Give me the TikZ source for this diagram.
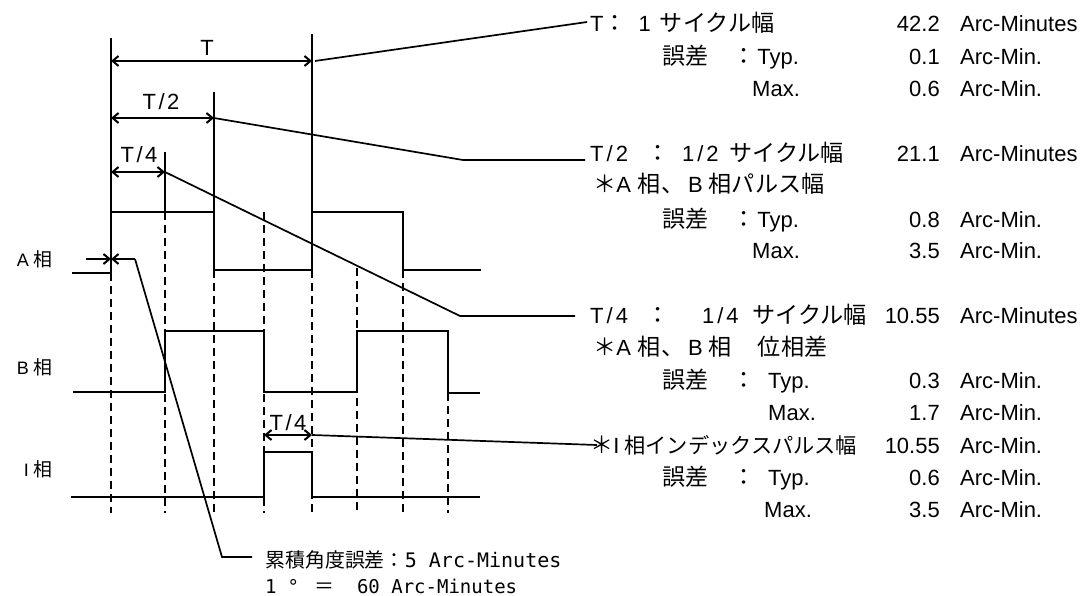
\documentclass[tikz,border=0pt]{standalone}
\usepackage{fontspec}
\setmainfont{Liberation Sans}
\newfontfamily\jp[Scale=1.05]{Noto Sans CJK JP}
\newfontfamily\mono{DejaVu Sans Mono}
\usetikzlibrary{arrows.meta}
\newcommand\sla{\hspace{3pt}/\hspace{3pt}}
\newcommand\slb{\hspace{2.5pt}/\hspace{2.5pt}}
\tikzset{
  wave/.style={line width=2.1pt},
  refl/.style={line width=1.9pt},
  grid/.style={line width=1.8pt, dash pattern=on 8pt off 5pt},
  dimarrow/.style={line width=2pt, {Straight Barb[length=6pt,width=10pt]}-{Straight Barb[length=6pt,width=10pt]}},
  onearrow/.style={line width=2pt, -{Straight Barb[length=6pt,width=10pt]}},
  lead/.style={line width=1.7pt},
  lbl/.style={font=\fontsize{22}{26}\selectfont, inner sep=0pt},
  txt/.style={font=\fontsize{22}{26}\selectfont, inner sep=0pt, anchor=base west},
  num/.style={font=\fontsize{22}{26}\selectfont, inner sep=0pt, anchor=base east},
  phase/.style={font=\fontsize{18}{22}\selectfont, inner sep=0pt, anchor=base east},
}
\begin{document}
\begin{tikzpicture}[x=1pt,y=-1pt]
\useasboundingbox (0,0) rectangle (1086,596);

% solid reference lines
\draw[refl] (111,38) -- (111,212);
\draw[refl] (214,92) -- (214,212);
\draw[refl] (312,34) -- (312,212);
\draw[refl] (165,152) -- (165,212);

% dashed grid
\foreach \x/\y in {111/273,165/212,214/270,264/212,312/270,357/268,403/270,448/393}
  \draw[grid] (\x,\y) -- (\x,513);

% waveforms
\draw[wave] (72,273) -- (111,273) -- (111,212) -- (214,212) -- (214,270) -- (312,270) -- (312,212) -- (403,212) -- (403,270) -- (481,270);
\draw[wave] (73,392) -- (165,392) -- (165,331) -- (264,331) -- (264,392) -- (357,392) -- (357,331) -- (448,331) -- (448,393) -- (480,393);
\draw[wave] (71,497) -- (264,497) -- (264,452) -- (312,452) -- (312,497) -- (480,497);

% phase labels
\node[phase] (la) at (53,266) {A\hspace{5pt}{\jp 相}};
\node[phase] (lb) at (53,374) {B\hspace{5pt}{\jp 相}};
\node[phase] (li) at (53,476) {I\hspace{5pt}{\jp 相}};

% dimension arrows
\coordinate (Ta) at (111,61);  \coordinate (Tb) at (312,61);
\coordinate (Ha) at (111,118); \coordinate (Hb) at (214,118);
\coordinate (Qa) at (111,172); \coordinate (Qb) at (165,172);
\coordinate (Ia) at (264,435); \coordinate (Ib) at (312,435);
\draw[dimarrow] (Ta) -- (Tb);
\draw[dimarrow] (Ha) -- (Hb);
\draw[dimarrow] (Qa) -- (Qb);
\draw[dimarrow] (Ia) -- (Ib);
\node[lbl] (tT) at (207,48) {T};
\node[lbl] (tH) at (161,102) {T\slb 2};
\node[lbl] (tQ) at (139,155) {T\slb 4};
\node[lbl] (tI) at (288,423) {T\slb 4};

% accumulated error arrows
\coordinate (ea) at (86,259); \coordinate (eo) at (111,259); \coordinate (eb) at (135,259);
\draw[onearrow] (ea) -- (eo);
\draw[onearrow] (eb) -- (eo);

% leaders
\coordinate (k0) at (315,61);
\coordinate (k1) at (587,22);
\draw[lead] (k0) -- (k1);
\coordinate (k2a) at (463,160); \coordinate (k2b) at (585,160);
\draw[lead] (Hb) -- (k2a) -- (k2b);
\coordinate (k3a) at (460,316); \coordinate (k3b) at (575,316);
\draw[lead] (Qb) -- (k3a) -- (k3b);
\coordinate (k4) at (597,445);
\draw[lead] (Ib) -- (k4);
\coordinate (k5a) at (222,557); \coordinate (k5b) at (252,557);
\draw[lead] (eb) -- (k5a) -- (k5b);

% right text: T
\node[txt] (r1) at (590,32) {T{\jp ：}\hspace{12pt}1\hspace{9pt}{\jp サイクル幅}};
\node[num] (n1) at (940,32) {42.2};
\node[txt] (u1) at (960,32) {Arc-Minutes};
\node[txt] (r2a) at (662,65) {\jp 誤差};
\node[txt] (r2b) at (732,65) {{\jp ：}\hspace{2pt}Typ.};
\node[num] (n2) at (940,65) {0.1};
\node[txt] (u2) at (960,65) {Arc-Min.};
\node[txt] (r3) at (752,97) {Max.};
\node[num] (n3) at (940,97) {0.6};
\node[txt] (u3) at (960,97) {Arc-Min.};

% T/2
\node[txt] (r4) at (590,162) {T\sla 2\hspace{19pt}{\jp ：}\hspace{12pt}1\sla 2\hspace{11pt}{\jp サイクル幅}};
\node[num] (n4) at (940,162) {21.1};
\node[txt] (u4) at (960,162) {Arc-Minutes};
\node[txt] (r5) at (593,193) {{\jp ＊}A\hspace{7pt}{\jp 相、}\hspace{4pt}B\hspace{6pt}{\jp 相パルス幅}};
\node[txt] (r6a) at (662,227) {\jp 誤差};
\node[txt] (r6b) at (732,227) {{\jp ：}\hspace{2pt}Typ.};
\node[num] (n6) at (940,227) {0.8};
\node[txt] (u6) at (960,227) {Arc-Min.};
\node[txt] (r7) at (752,258) {Max.};
\node[num] (n7) at (940,258) {3.5};
\node[txt] (u7) at (960,258) {Arc-Min.};

% T/4
\node[txt] (r8) at (590,323) {T\sla 4\hspace{19pt}{\jp ：}\hspace{32pt}1\sla 4\hspace{14pt}{\jp サイクル幅}};
\node[num] (n8) at (940,323) {10.55};
\node[txt] (u8) at (960,323) {Arc-Minutes};
\node[txt] (r9) at (593,355) {{\jp ＊}A\hspace{7pt}{\jp 相、}\hspace{4pt}B\hspace{6pt}{\jp 相}\hspace{26pt}{\jp 位相差}};
\node[txt] (r10a) at (662,388) {\jp 誤差};
\node[txt] (r10b) at (732,388) {\jp ：};
\node[txt] (r10c) at (768,388) {Typ.};
\node[num] (n10) at (940,388) {0.3};
\node[txt] (u10) at (960,388) {Arc-Min.};
\node[txt] (r11) at (768,420) {Max.};
\node[num] (n11) at (940,420) {1.7};
\node[txt] (u11) at (960,420) {Arc-Min.};

% I index
\node[txt] (r12) at (590,453) {{\jp ＊}I\hspace{5pt}{\fontsize{20.2}{24}\selectfont\jp 相インデックスパルス幅}};
\node[num] (n12) at (940,453) {10.55};
\node[txt] (u12) at (960,453) {Arc-Min.};
\node[txt] (r13a) at (662,485) {\jp 誤差};
\node[txt] (r13b) at (732,485) {\jp ：};
\node[txt] (r13c) at (768,485) {Typ.};
\node[num] (n13) at (940,485) {0.6};
\node[txt] (u13) at (960,485) {Arc-Min.};
\node[txt] (r14) at (764,517) {Max.};
\node[num] (n14) at (940,517) {3.5};
\node[txt] (u14) at (960,517) {Arc-Min.};

% bottom notes
\node[anchor=base west, inner sep=0pt] (b1) at (265,567)
  {{\fontsize{19}{24}\selectfont\jp 累積角度誤差：}{\fontsize{20}{24}\selectfont\mono 5 Arc-Minutes}};
\node[anchor=base west, inner sep=0pt] (b2) at (265,593)
  {{\fontsize{19}{22}\selectfont\mono 1\hspace{11pt}°}\hspace{15pt}{\fontsize{19}{24}\selectfont\jp ＝}\hspace{23pt}{\fontsize{19}{22}\selectfont\mono 60 Arc-Minutes}};
\end{tikzpicture}
\end{document}
